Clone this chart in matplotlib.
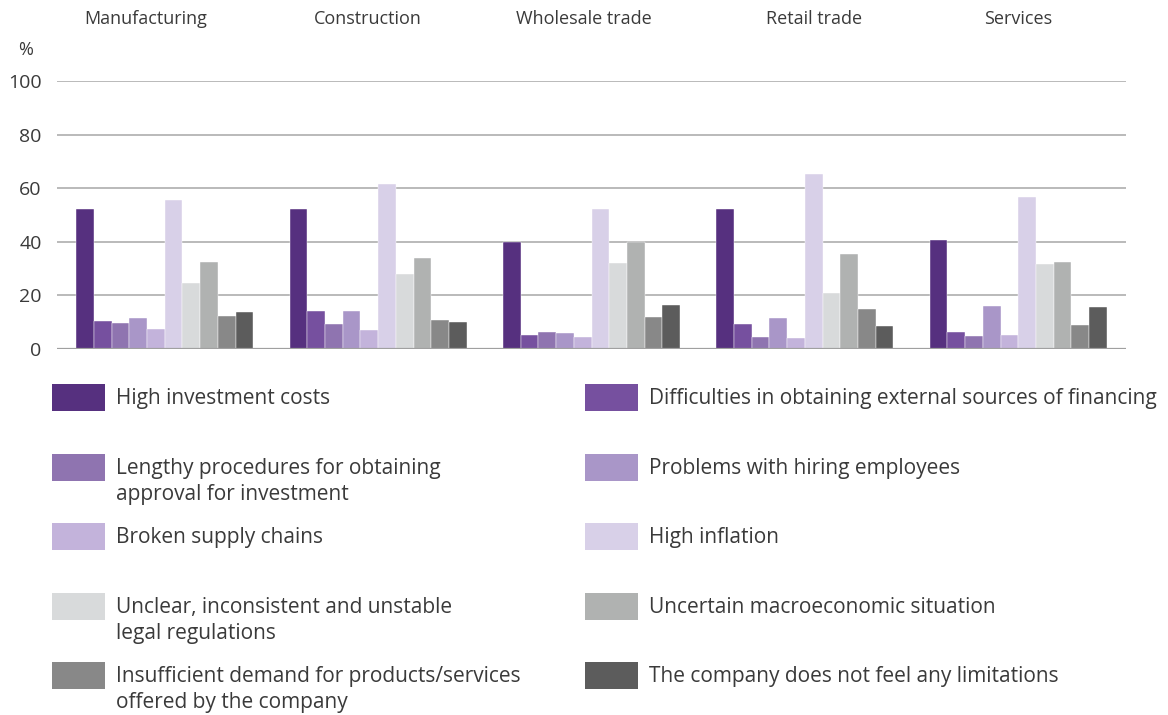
import numpy as np
import matplotlib
matplotlib.use("Agg")
import matplotlib.pyplot as plt
from matplotlib.patches import Rectangle
from matplotlib.transforms import blended_transform_factory

plt.rcParams['font.family'] = ['Open Sans', 'DejaVu Sans']

# Sectors (groups along the x axis)
sectors = ['Manufacturing', 'Construction', 'Wholesale trade', 'Retail trade', 'Services']

# Barriers (one bar per barrier in every sector)
barriers = [
    'High investment costs',
    'Difficulties in obtaining external sources of financing',
    'Lengthy procedures for obtaining\napproval for investment',
    'Problems with hiring employees',
    'Broken supply chains',
    'High inflation',
    'Unclear, inconsistent and unstable\nlegal regulations',
    'Uncertain macroeconomic situation',
    'Insufficient demand for products/services\noffered by the company',
    'The company does not feel any limitations',
]

colors = ['#56307f', '#76509f', '#8f74b0', '#a996c8', '#c3b3db',
          '#d8d0e8', '#d8dadb', '#b0b2b1', '#888888', '#5c5c5c']

# Share of companies (%) per barrier, in sector order
high_investment_costs = [52.4, 52.2, 39.9, 52.3, 40.7]
external_financing = [10.4, 14.0, 5.1, 9.4, 6.5]
lengthy_procedures = [9.6, 9.2, 6.3, 4.5, 4.7]
hiring_problems = [11.7, 14.2, 5.8, 11.5, 15.9]
supply_chains = [7.5, 7.1, 4.6, 4.1, 5.2]
high_inflation = [55.5, 61.4, 52.4, 65.4, 56.8]
legal_regulations = [24.5, 28.0, 32.0, 20.8, 31.6]
macro_situation = [32.3, 33.9, 39.9, 35.5, 32.5]
insufficient_demand = [12.4, 10.9, 12.0, 15.1, 8.9]
no_limitations = [13.8, 10.2, 16.6, 8.7, 15.5]

series = [high_investment_costs, external_financing, lengthy_procedures,
          hiring_problems, supply_chains, high_inflation, legal_regulations,
          macro_situation, insufficient_demand, no_limitations]

text_color = '#3a3a3a'
grid_color = '#b4b4b4'

fig = plt.figure(figsize=(11.68, 7.15), dpi=100)
ax = fig.add_axes([57 / 1168, 1 - 349 / 715, (1126 - 57) / 1168, (349 - 81) / 715])

x = np.arange(len(sectors))
n = len(series)
width = 0.083
for i, (vals, col) in enumerate(zip(series, colors)):
    offset = (i - (n - 1) / 2) * width
    ax.bar(x + offset, vals, width, color=col, edgecolor='white',
           linewidth=0.3, zorder=3)

ax.set_xlim(-0.505, 4.505)
ax.set_ylim(0, 100)
ax.set_yticks(range(0, 101, 20))
ax.yaxis.grid(True, color=grid_color, linewidth=1.3, zorder=0)
ax.tick_params(axis='y', length=0, pad=11, labelsize=14, labelcolor=text_color)
ax.set_xticks([])
for s in ax.spines.values():
    s.set_visible(False)
ax.axhline(0, color='#a0a0a0', linewidth=1.6, zorder=4)

# sector names above the plot, nudged slightly off the group centres
title_shift = [-0.09, -0.05, -0.035, 0.045, 0.0]
top = blended_transform_factory(ax.transData, fig.transFigure)
for xi, name, dx in zip(x, sectors, title_shift):
    ax.text(xi + dx, 1 - 19 / 715, name, transform=top, fontsize=13,
            color=text_color, ha='center', va='center')

fig.text(26 / 1168, 1 - 50 / 715, '%', fontsize=13, color=text_color,
         ha='center', va='center')

# Legend laid out in two columns below the chart
col_x = [52, 585]
row_y = [384, 454, 523, 593, 662]
sw_w, sw_h = 53, 27
for i, (lab, col) in enumerate(zip(barriers, colors)):
    px = col_x[i % 2]
    py = row_y[i // 2]
    fig.add_artist(Rectangle((px / 1168, 1 - (py + sw_h) / 715),
                             sw_w / 1168, sw_h / 715,
                             facecolor=col, edgecolor='none',
                             transform=fig.transFigure))
    fig.text((px + 64) / 1168, 1 - (py + 4) / 715, lab,
             fontsize=15, color=text_color, ha='left', va='top',
             linespacing=1.3)

fig.savefig('out.png', dpi=100)
